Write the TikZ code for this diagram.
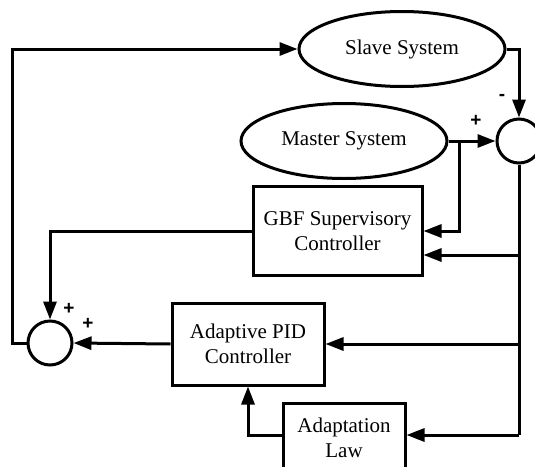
\documentclass[tikz,border=0pt]{standalone}
\usepackage{fontspec}
\setmainfont{Liberation Serif}
\newfontfamily\signfont{Liberation Sans}
\usetikzlibrary{positioning,shapes.geometric,arrows.meta}

\begin{document}
\begin{tikzpicture}[x=1pt,y=-1pt,line width=3pt,
	every node/.style={font=\fontsize{21}{24.5}\selectfont},
	sys/.style={draw,ellipse,minimum width=206pt,minimum height=75pt,inner sep=0pt},
	ctrl/.style={draw,rectangle,align=center,inner sep=0pt},
	sumnode/.style={draw,circle,minimum size=44pt,inner sep=0pt},
	sgn/.style={font=\signfont\bfseries\fontsize{19}{19}\selectfont,inner sep=0pt},
	>={Triangle[length=18pt,width=13pt]}]
		\clip (0,0) rectangle (535,466);
		\node[sys] (slave) at (402,49) {Slave System};
		\node[sys] (master) at (344,141) {Master System};
		\node[sumnode] (sumR) at (519,141) {};
		\node[sumnode] (sumL) at (50,343) {};
		\node[ctrl,minimum width=169pt,minimum height=89pt] (gbf) at (337.5,231) {GBF Supervisory\\Controller};
		\node[ctrl,minimum width=152pt,minimum height=82pt] (pid) at (248,344) {Adaptive PID\\Controller};
		\node[ctrl,minimum width=122pt,minimum height=70pt] (law) at (344,438) {Adaptation\\Law};
		%signs
		\node[sgn] (mR) at (502,97) {-};
		\node[sgn] (pR) at (476,121) {+};
		\node[sgn] (pL1) at (69,309) {+};
		\node[sgn] (pL2) at (88,324) {+};
		\coordinate (br) at (459,141);
		\coordinate (fb) at (12,343);
		\coordinate (eEnd) at (519,435);
		\coordinate (e1) at (519,255);
		\draw[->] (slave.east) -| (sumR.north);
		\draw[->] (master.east) -- (sumR.west);
		\draw[->] (br) |- (gbf.east);
		\draw (sumR.south) -- (eEnd);
		\draw[->] (e1) -- (e1 -| gbf.east);
		\draw[->] (sumR.south |- pid.east) -- (pid.east);
		\draw[->] (eEnd) -- (eEnd -| law.east);
		\draw[->] (law.west |- eEnd) -| (pid.south);
		\draw[->] (gbf.west) -| (sumL.north);
		\draw[->] (pid.west) -- (sumL.east);
		\draw[->] (sumL.west) -- (fb) |- (slave.west);
	\end{tikzpicture}
\end{document}
